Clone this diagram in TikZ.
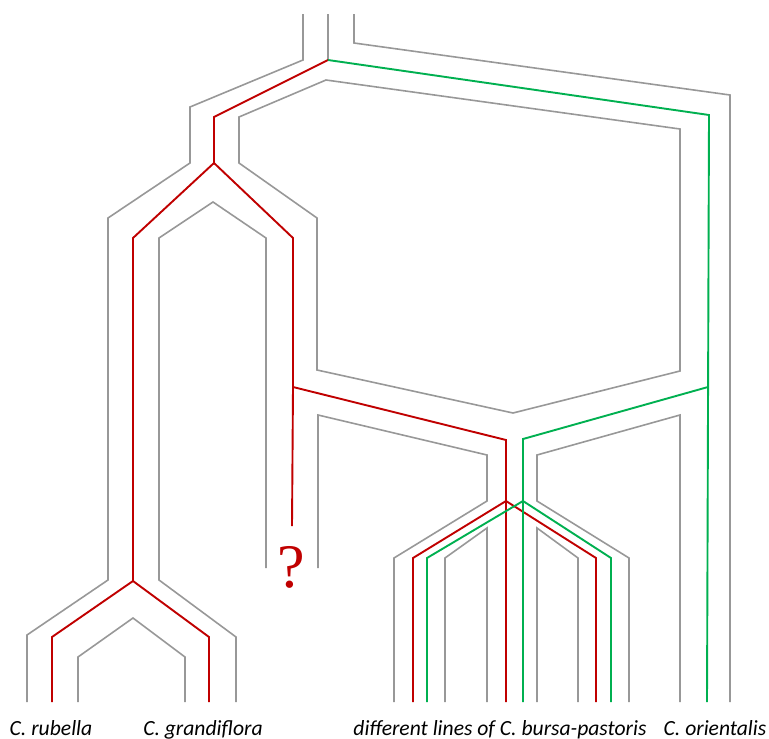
\documentclass[tikz,border=0pt]{standalone}
\usepackage{fontspec}
\setmainfont{Carlito}
\newfontfamily\qmarkfont{Liberation Serif}
\usetikzlibrary{positioning}
\definecolor{wallgray}{RGB}{152,152,152}
\definecolor{lineagered}{RGB}{192,0,0}
\definecolor{lineagegreen}{RGB}{0,176,80}

\begin{document}
\begin{tikzpicture}[x=1pt, y=-1pt, line join=miter]
      \tikzset{
        wall/.style={
          draw=wallgray, line width=1.6pt
        },
        redline/.style={
          draw=lineagered, line width=1.9pt
        },
        greenline/.style={
          draw=lineagegreen, line width=1.9pt
        },
        species/.style={
          font=\fontsize{21.6}{26}\selectfont\itshape, anchor=base, inner sep=0pt
        }
      }
      \useasboundingbox (0,0) rectangle (769,739);

      % tube walls
      \draw[wall] (303,14) -- (303,60) -- (190,107) -- (190,163) -- (108,218)
        -- (108,580) -- (27,635) -- (27,702);
      \draw[wall] (328,14) -- (328,60);
      \draw[wall] (78,702) -- (78,657) -- (133,618) -- (185,657) -- (185,702);
      \draw[wall] (236,702) -- (236,637) -- (159,580) -- (159,238) -- (213,202)
        -- (266,238) -- (266,568);
      \draw[wall] (326,80) -- (680,129) -- (680,371) -- (513,413) -- (317,370)
        -- (317,218) -- (239,163) -- (239,117) -- cycle;
      \draw[wall] (354,14) -- (354,43) -- (730,95) -- (730,702);
      \draw[wall] (318,568) -- (318,415) -- (487,455) -- (487,501) -- (394,558)
        -- (394,702);
      \draw[wall] (445,702) -- (445,558) -- (487,528) -- (487,702);
      \draw[wall] (537,702) -- (537,528) -- (578,558) -- (578,702);
      \draw[wall] (629,702) -- (629,558) -- (537,501) -- (537,455) -- (680,415)
        -- (680,702);

      % red lineage
      \draw[redline] (328,60) -- (214,117) -- (214,163) -- (133,238) -- (133,581)
        -- (52,637) -- (52,702);
      \draw[redline] (133,581) -- (209,637) -- (209,702);
      \draw[redline] (214,163) -- (293,238) -- (293,387) -- (292,526);
      \draw[redline] (293,387) -- (506,440) -- (506,702);
      \draw[redline] (413,702) -- (413,558) -- (506,501) -- (596,558) -- (596,702);

      % green lineage
      \draw[greenline] (328,60) -- (709,115) -- (707,702);
      \draw[greenline] (708,387) -- (523,439) -- (523,702);
      \draw[greenline] (427,702) -- (427,558) -- (523,501) -- (611,558) -- (611,702);

      \node[text=lineagered, font=\qmarkfont\fontsize{62}{62}\selectfont,
        anchor=base, inner sep=0pt] (unknown) at (291,587) {?};

      \node[species] (rubella) at (51,735) {C. rubella};
      \node[species] (grandiflora) at (203,735) {C. grandiflora};
      \node[species] (bursa) at (500,735) {different lines of C. bursa-pastoris};
      \node[species] (orientalis) at (715,735) {C. orientalis};
    \end{tikzpicture}
\end{document}
